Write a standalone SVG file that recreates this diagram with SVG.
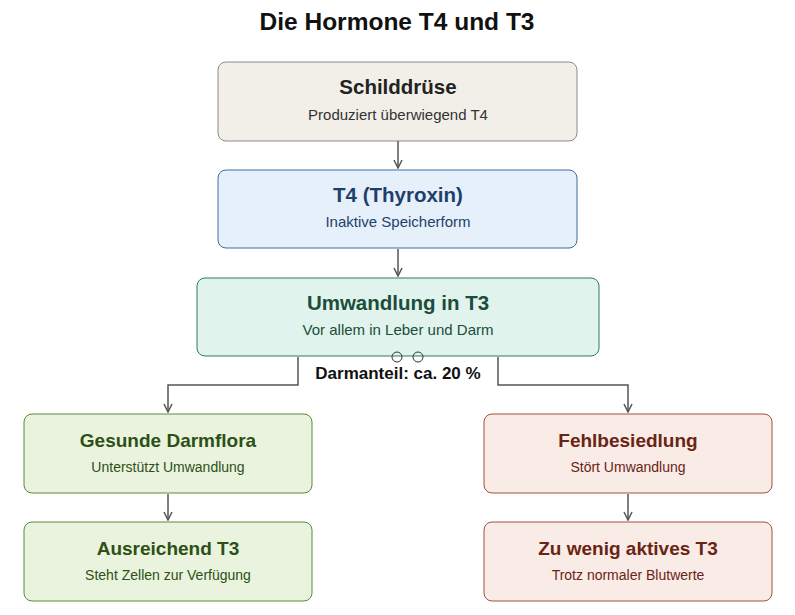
<svg xmlns="http://www.w3.org/2000/svg" width="795" height="615" viewBox="0 0 795 615">
<style>
text{font-family:"Liberation Sans",Arial,sans-serif;text-anchor:middle}
.t{font-size:20.5px;font-weight:bold}
.u{font-size:19px;font-weight:bold}
.s{font-size:15px}
.v{font-size:14px}
.c{fill:none;stroke:#555;stroke-width:1.5}
</style>
<defs><marker id="a" markerWidth="10" markerHeight="10" refX="9" refY="5" orient="auto" markerUnits="userSpaceOnUse"><path d="M1,1 L9,5 L1,9" fill="none" stroke="#555" stroke-width="1.5"/></marker></defs>
<rect width="795" height="615" fill="#fff"/>
<text x="397" y="30" style="font-size:24.5px;font-weight:bold" fill="#111">Die Hormone T4 und T3</text>
<g id="schilddruese"><rect x="218" y="62" width="359" height="79" rx="8" fill="#f2efe9" stroke="#8a8a8a"/>
<text class="t" x="398" y="94" fill="#222">Schilddrüse</text><text class="s" x="398" y="120" fill="#333">Produziert überwiegend T4</text></g>
<g id="t4"><rect x="218" y="170" width="359" height="78" rx="8" fill="#e6f0fa" stroke="#3d6d9e"/>
<text class="t" x="398" y="202" fill="#1f3f6b">T4 (Thyroxin)</text><text class="s" x="398" y="227" fill="#1f3f6b">Inaktive Speicherform</text></g>
<g id="umwandlung"><rect x="197" y="278" width="402" height="78" rx="8" fill="#e0f3ec" stroke="#2e7d5a"/>
<text class="t" x="398" y="310" fill="#1b4d3a">Umwandlung in T3</text><text class="s" x="398" y="335" fill="#1b4d3a">Vor allem in Leber und Darm</text></g>
<g id="gesund"><rect x="24" y="414" width="288" height="79" rx="8" fill="#eaf3de" stroke="#5a8a3a"/>
<text class="u" x="168" y="447" fill="#2d5016">Gesunde Darmflora</text><text class="v" x="168" y="472" fill="#2d5016">Unterstützt Umwandlung</text></g>
<g id="fehl"><rect x="484" y="414" width="288" height="79" rx="8" fill="#f9ebe6" stroke="#a0523d"/>
<text class="u" x="628" y="447" fill="#6b2414">Fehlbesiedlung</text><text class="v" x="628" y="472" fill="#6b2414">Stört Umwandlung</text></g>
<g id="ausreichend"><rect x="24" y="522" width="288" height="79" rx="8" fill="#eaf3de" stroke="#5a8a3a"/>
<text class="u" x="168" y="555" fill="#2d5016">Ausreichend T3</text><text class="v" x="168" y="580" fill="#2d5016">Steht Zellen zur Verfügung</text></g>
<g id="zuwenig"><rect x="484" y="522" width="288" height="79" rx="8" fill="#f9ebe6" stroke="#a0523d"/>
<text class="u" x="628" y="555" fill="#6b2414">Zu wenig aktives T3</text><text class="v" x="628" y="580" fill="#6b2414">Trotz normaler Blutwerte</text></g>
<g id="connectors">
<path class="c" d="M398,141 V168" marker-end="url(#a)"/>
<path class="c" d="M398,249 V276" marker-end="url(#a)"/>
<path class="c" d="M298,357 V385 H168 V412" marker-end="url(#a)"/>
<path class="c" d="M498,357 V385 H628 V412" marker-end="url(#a)"/>
<path class="c" d="M168,494 V520" marker-end="url(#a)"/>
<path class="c" d="M628,494 V520" marker-end="url(#a)"/>
<rect x="308" y="360" width="180" height="26" fill="#fff"/>
<circle cx="397" cy="357" r="5" fill="none" stroke="#333"/>
<circle cx="418" cy="357" r="5" fill="none" stroke="#333"/>
<text x="398" y="379" style="font-size:17px;font-weight:bold" fill="#111">Darmanteil: ca. 20 %</text>
</g>
</svg>
